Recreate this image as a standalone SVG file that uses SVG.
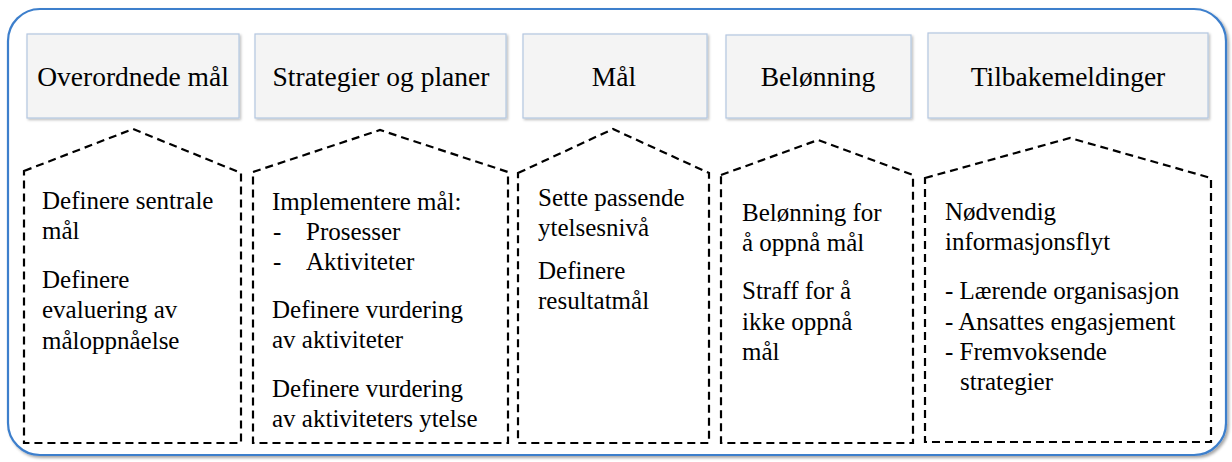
<svg xmlns="http://www.w3.org/2000/svg" width="1232" height="462" viewBox="0 0 1232 462">
  <defs>
    <filter id="soft" x="-5%" y="-5%" width="110%" height="115%">
      <feDropShadow dx="1.5" dy="1.5" stdDeviation="1.2" flood-color="#000" flood-opacity="0.25"/>
    </filter>
    <filter id="frameShadow" x="-2%" y="-2%" width="104%" height="106%">
      <feDropShadow dx="2" dy="2" stdDeviation="1.5" flood-color="#000" flood-opacity="0.35"/>
    </filter>
  </defs>
  <style>
    .frame { fill: #ffffff; stroke: #3d7fcc; stroke-width: 2.2; }
    .head rect { fill: #f4f4f4; stroke: #b3c6e0; stroke-width: 1.2; }
    .head text { font-family: 'Liberation Serif', serif; font-size: 27.5px; fill: #000; text-anchor: middle; }
    .house path { fill: none; stroke: #000; stroke-width: 2.2; stroke-dasharray: 8 5; }
    .house text { font-family: 'Liberation Serif', serif; font-size: 25px; fill: #000; }
  </style>

  <!-- outer frame -->
  <rect class="frame" x="8" y="9" width="1218" height="446" rx="32" ry="32" filter="url(#frameShadow)"/>

  <!-- column headers -->
  <g id="head-overordnede" class="head">
    <rect x="27" y="34" width="212" height="84" filter="url(#soft)"/>
    <text x="133" y="86">Overordnede mål</text>
  </g>
  <g id="head-strategier" class="head">
    <rect x="255" y="34" width="251" height="84" filter="url(#soft)"/>
    <text x="381" y="86">Strategier og planer</text>
  </g>
  <g id="head-maal" class="head">
    <rect x="523" y="34" width="184" height="84" filter="url(#soft)"/>
    <text x="614" y="86">Mål</text>
  </g>
  <g id="head-belonning" class="head">
    <rect x="726" y="35" width="185" height="83" filter="url(#soft)"/>
    <text x="818" y="86">Belønning</text>
  </g>
  <g id="head-tilbake" class="head">
    <rect x="928" y="33" width="280" height="85" filter="url(#soft)"/>
    <text x="1068" y="86">Tilbakemeldinger</text>
  </g>

  <!-- dashed house shapes with their contents -->
  <g id="house-overordnede" class="house">
    <path d="M24,171 L133,129 L241,173 L241,443 L24,443 Z"/>
    <text x="42" y="209">Definere sentrale</text>
    <text x="42" y="239">mål</text>
    <text x="42" y="288">Definere</text>
    <text x="42" y="318">evaluering av</text>
    <text x="42" y="349">måloppnåelse</text>
  </g>
  <g id="house-strategier" class="house">
    <path d="M253,172 L380,130 L508,172 L508,443 L253,443 Z"/>
    <text x="272" y="210">Implementere mål:</text>
    <text x="273" y="240">-</text>
    <text x="306" y="240">Prosesser</text>
    <text x="273" y="270">-</text>
    <text x="306" y="270">Aktiviteter</text>
    <text x="272" y="318">Definere vurdering</text>
    <text x="272" y="348">av aktiviteter</text>
    <text x="272" y="397">Definere vurdering</text>
    <text x="272" y="427">av aktiviteters ytelse</text>
  </g>
  <g id="house-maal" class="house">
    <path d="M518,173 L613,129 L709,173 L709,443 L518,443 Z"/>
    <text x="538" y="206">Sette passende</text>
    <text x="538" y="236">ytelsesnivå</text>
    <text x="538" y="279">Definere</text>
    <text x="538" y="309">resultatmål</text>
  </g>
  <g id="house-belonning" class="house">
    <path d="M721,175 L818,140 L913,175 L913,443 L721,443 Z"/>
    <text x="742" y="221">Belønning for</text>
    <text x="742" y="251">å oppnå mål</text>
    <text x="742" y="299">Straff for å</text>
    <text x="742" y="330">ikke oppnå</text>
    <text x="742" y="360">mål</text>
  </g>
  <g id="house-tilbake" class="house">
    <path d="M925,178 L1070,138 L1211,178 L1211,442 L925,442 Z"/>
    <text x="945" y="220">Nødvendig</text>
    <text x="945" y="250">informasjonsflyt</text>
    <text x="945" y="299">- Lærende organisasjon</text>
    <text x="945" y="330">- Ansattes engasjement</text>
    <text x="945" y="360">- Fremvoksende</text>
    <text x="960" y="390">strategier</text>
  </g>

  <!-- no connectors in this figure -->
  <g id="connectors"/>
</svg>
